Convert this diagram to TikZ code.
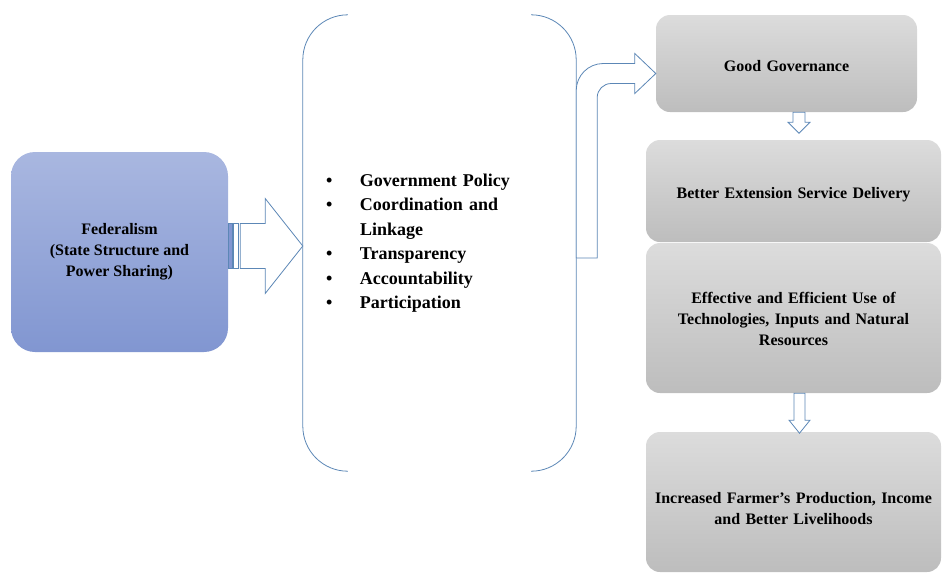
\documentclass[tikz,border=0pt]{standalone}
\usepackage{fontspec}
\setmainfont{Liberation Serif}
\usepackage{xcolor}
\usetikzlibrary{calc, positioning}

\definecolor{edgeblue}{HTML}{5C87B6}
\definecolor{fedtop}{HTML}{A9B7E0}
\definecolor{fedbot}{HTML}{8196D1}
\definecolor{graytop}{HTML}{DCDCDC}
\definecolor{graybot}{HTML}{BDBDBD}

\begin{document}
\begin{tikzpicture}[
		x=1pt, y=-1pt,
		font=\bfseries\fontsize{16}{21}\selectfont,
		fedbox/.style={
			rounded corners=24pt,
			align=center,
			minimum width=217pt,
			minimum height=200pt,
			top color=fedtop, bottom color=fedbot
		},
		outbox/.style={
			rounded corners=14pt,
			align=center,
			text width=280pt,
			minimum width=295pt,
			top color=graytop, bottom color=graybot
		},
		lower/.style={execute at begin node={\rule{0pt}{#1}}},
		listbox/.style={
			align=left,
			text width=227pt,
			inner xsep=23pt,
			minimum height=456pt,
			font=\bfseries\fontsize{18}{24.5}\selectfont
		},
		bracket/.style={draw=edgeblue, line width=0.8pt, rounded corners=45pt},
		hollow/.style={draw=edgeblue, fill=white, line width=0.8pt, line join=miter}
	]
	
	\useasboundingbox (0,0) rectangle (942,574);
	
	\node[fedbox] (fed) at (119.5,252) {Federalism\\(State Structure and\\Power Sharing)};
	
	\node[listbox] (factors) at (439.5,243) {%
		\makebox[34pt][l]{\textbullet}Government Policy\\
		\makebox[34pt][l]{\textbullet}Coordination and\\
		\makebox[34pt][l]{}Linkage\\
		\makebox[34pt][l]{\textbullet}Transparency\\
		\makebox[34pt][l]{\textbullet}Accountability\\
		\makebox[34pt][l]{\textbullet}Participation};
	
	\node[outbox,lower=16pt,minimum width=261pt,text width=250pt,minimum height=97pt] (gg) at (786.5,63.5) {Good Governance};
	\node[outbox,lower=18pt,minimum height=102pt] (bes) at (793.5,191) {Better Extension Service Delivery};
	\node[outbox,lower=14pt,minimum height=150pt] (eff) at (793.5,318) {Effective and Efficient Use of\\Technologies, Inputs and Natural\\Resources};
	\node[outbox,lower=25pt,minimum height=140pt] (inc) at (793.5,502) {Increased Farmer's Production, Income\\and Better Livelihoods};
	
	% brackets round the list
	\draw[bracket] ([xshift=45pt]factors.north west) -- (factors.north west) -- (factors.south west) -- ([xshift=45pt]factors.south west);
	\draw[bracket] ([xshift=-45pt]factors.north east) -- (factors.north east) -- (factors.south east) -- ([xshift=-45pt]factors.south east);
	
	% striped arrow from federalism
	\coordinate (fa) at ([yshift=6pt]fed.east);
	\coordinate (fatip) at (factors.west |- fa);
	\draw[draw=edgeblue, fill=fedbot, line width=0.6pt] ($(fa)+(0,-22.5)$) rectangle ($(fa)+(4,22.5)$);
	\draw[hollow, line width=0.6pt] ($(fa)+(5,-22.5)$) rectangle ($(fa)+(10,22.5)$);
	\draw[hollow] ($(fa)+(12,-22.5)$) -- ($(fa)+(37,-22.5)$) -- ($(fa)+(37,-47.5)$) -- (fatip)
		-- ($(fa)+(37,47.5)$) -- ($(fa)+(37,22.5)$) -- ($(fa)+(12,22.5)$) -- cycle;
	
	% bent arrow to good governance
	\coordinate (ba) at ([yshift=-15pt]factors.east);
	\coordinate (ta) at ([yshift=-10pt]gg.west);
	\draw[hollow] (ba) -- ($(ba |- ta)+(0,17)$) arc (180:270:27) -- ($(ta)+(-21,-10)$) -- ($(ta)+(-21,-20)$) -- (ta)
		-- ($(ta)+(-21,20)$) -- ($(ta)+(-21,10)$) -- ($(ba |- ta)+(35,10)$) arc (270:180:14) -- ($(ba)+(21,0)$) -- cycle;
	
	% small down arrows
	\coordinate (d1) at ([xshift=12.5pt]gg.south);
	\coordinate (d2) at ([xshift=6pt]eff.south);
	\draw[hollow] ($(d1)+(-6,0)$) -- ($(d1)+(-6,10)$) -- ($(d1)+(-11,10)$) -- ($(d1)+(0,21)$)
		-- ($(d1)+(11,10)$) -- ($(d1)+(6,10)$) -- ($(d1)+(6,0)$) -- cycle;
	\draw[hollow] ($(d2)+(-5.5,0)$) -- ($(d2)+(-5.5,27)$) -- ($(d2)+(-10.5,27)$) -- ($(d2)+(0,40)$)
		-- ($(d2)+(10.5,27)$) -- ($(d2)+(5.5,27)$) -- ($(d2)+(5.5,0)$) -- cycle;
	
\end{tikzpicture}
\end{document}
